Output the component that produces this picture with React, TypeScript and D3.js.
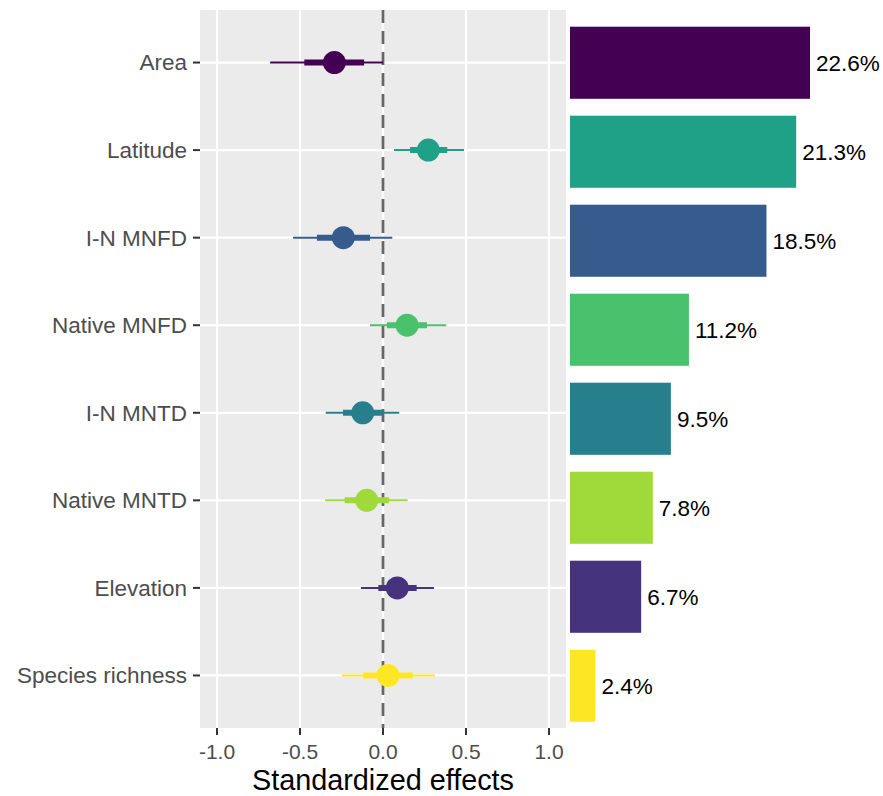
import React from "react";
import * as d3 from "d3";

const categories = ["Area", "Latitude", "I-N MNFD", "Native MNFD", "I-N MNTD", "Native MNTD", "Elevation", "Species richness"];
const estimates = [-0.293, 0.273, -0.239, 0.145, -0.122, -0.098, 0.086, 0.03];
const innerLow = [-0.474, 0.163, -0.398, 0.024, -0.241, -0.231, -0.028, -0.119];
const innerHigh = [-0.114, 0.387, -0.078, 0.265, -0.004, 0.036, 0.203, 0.179];
const outerLow = [-0.68, 0.066, -0.542, -0.078, -0.345, -0.349, -0.133, -0.249];
const outerHigh = [0.0, 0.488, 0.056, 0.381, 0.098, 0.149, 0.307, 0.313];
const importance = [22.6, 21.3, 18.5, 11.2, 9.5, 7.8, 6.7, 2.4];
const colors = ["#440154", "#1FA187", "#365C8D", "#4AC16D", "#277F8E", "#9FDA3A", "#46337E", "#FDE725"];
const xTicks = [-1.0, -0.5, 0.0, 0.5, 1.0];

const W = 883;
const H = 796;
const FONT = "'Liberation Sans', Arial, Helvetica, sans-serif";

export default function App() {
  // left panel
  const pL = 200, pR = 566, pT = 10, pB = 728;
  const x = d3.scaleLinear().domain([-1.1025, 1.1025]).range([pL, pR]);
  const y = d3.scalePoint<string>().domain(categories).range([pT, pB]).padding(0.6);

  // bar panel
  const yb = d3.scaleBand<string>().domain(categories).range([26.7, 721.8]).paddingInner(0.19).paddingOuter(0);
  const xb = d3.scaleLinear().domain([0, 22.6]).range([570, 810]);

  return (
    <svg width={W} height={H} style={{ position: "absolute", left: 0, top: 0, background: "#fff" }} fontFamily={FONT}>
      <rect x={pL} y={pT} width={pR - pL} height={pB - pT} fill="#EBEBEB" />
      {xTicks.map((t) => (
        <line key={"gx" + t} x1={x(t)} x2={x(t)} y1={pT} y2={pB} stroke="#fff" strokeWidth={2.2} />
      ))}
      {categories.map((c) => (
        <line key={"gy" + c} x1={pL} x2={pR} y1={y(c)} y2={y(c)} stroke="#fff" strokeWidth={2.2} />
      ))}
      <line x1={x(0)} x2={x(0)} y1={pT} y2={pB} stroke="#666" strokeWidth={2.7} strokeDasharray="13 8" />
      {categories.map((c, i) => (
        <g key={"pt" + c}>
          <line x1={x(outerLow[i])} x2={x(outerHigh[i])} y1={y(c)} y2={y(c)} stroke={colors[i]} strokeWidth={2} />
          <line x1={x(innerLow[i])} x2={x(innerHigh[i])} y1={y(c)} y2={y(c)} stroke={colors[i]} strokeWidth={6} />
          <circle cx={x(estimates[i])} cy={y(c)} r={11.5} fill={colors[i]} />
        </g>
      ))}
      {/* y axis */}
      {categories.map((c) => (
        <g key={"yl" + c}>
          <line x1={193} x2={pL} y1={y(c)} y2={y(c)} stroke="#333" strokeWidth={2} />
          <text x={187} y={y(c)} dy="0.35em" textAnchor="end" fontSize={22.5} fill="#4D4D4D">{c}</text>
        </g>
      ))}
      {/* x axis */}
      {xTicks.map((t) => (
        <g key={"xt" + t}>
          <line x1={x(t)} x2={x(t)} y1={pB} y2={pB + 7} stroke="#333" strokeWidth={2} />
          <text x={x(t)} y={759} textAnchor="middle" fontSize={21} fill="#4D4D4D">{d3.format(".1f")(t).replace("−", "-")}</text>
        </g>
      ))}
      <text x={(pL + pR) / 2} y={790} textAnchor="middle" fontSize={28.8} fill="#000">Standardized effects</text>
      {/* bars */}
      {categories.map((c, i) => (
        <g key={"bar" + c}>
          <rect x={xb(0)} y={yb(c)} width={xb(importance[i]) - xb(0)} height={yb.bandwidth()} fill={colors[i]} />
          <text x={xb(importance[i]) + 6} y={(yb(c) as number) + yb.bandwidth() / 2} dy="0.35em" fontSize={22.5} fill="#000">
            {importance[i].toFixed(1) + "%"}
          </text>
        </g>
      ))}
    </svg>
  );
}
